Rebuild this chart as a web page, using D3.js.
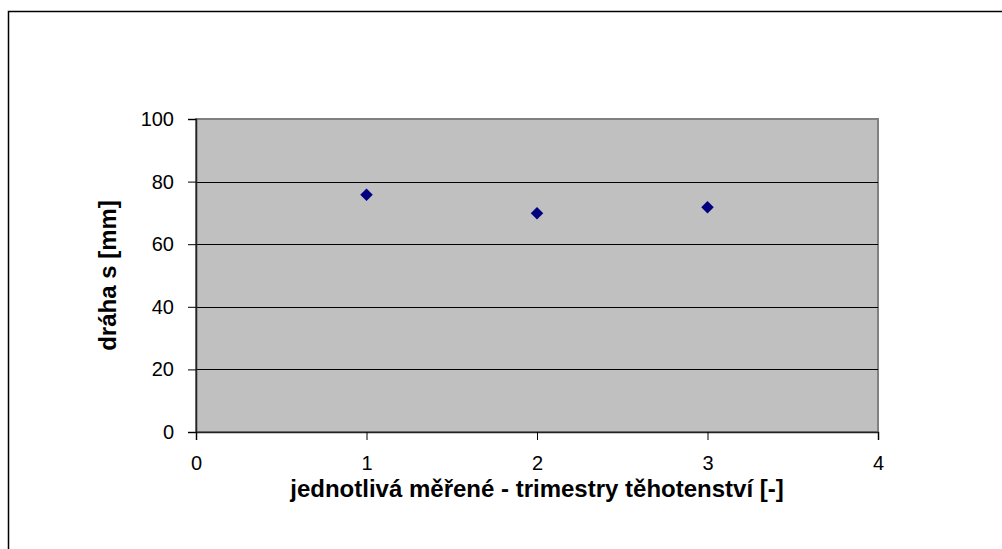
<!DOCTYPE html>
<html>
<head>
<meta charset="utf-8">
<script src="https://cdn.jsdelivr.net/npm/d3@7"></script>
<style>
  body { margin: 0; background: #fff; }
  text { font-family: "Liberation Sans", Arial, sans-serif; }
</style>
</head>
<body>
<div id="chart"></div>
<script>
let w = 1002;
let h = 549;

// data
let trimestry = [1, 2, 3];
let draha = [75.8, 69.9, 71.8];
let xTicks = [0, 1, 2, 3, 4];
let yTicks = [0, 20, 40, 60, 80, 100];

let plot = {left: 196, right: 878, top: 119, bottom: 432};

let svg = d3.select('#chart').
append('svg').
attr('width', w).
attr('height', h);

// outer chart frame
svg.append('rect').
attr('x', 8.5).
attr('y', 11.5).
attr('width', w + 10).
attr('height', h + 10).
attr('fill', 'none').
attr('stroke', '#000').
attr('stroke-width', 1.5);

let x = d3.scaleLinear().domain([0, 4]).range([plot.left, plot.right]);
let y = d3.scaleLinear().domain([0, 100]).range([plot.bottom, plot.top]);

svg.append('rect').
attr('x', plot.left).
attr('y', plot.top).
attr('width', plot.right - plot.left).
attr('height', plot.bottom - plot.top).
attr('fill', '#c0c0c0').
attr('stroke', '#808080').
attr('stroke-width', 2);

// horizontal gridlines
svg.selectAll('line.grid').
data(yTicks.filter(d => d > 0 && d < 100)).
join('line').
attr('class', 'grid').
attr('x1', plot.left).
attr('x2', plot.right).
attr('y1', d => Math.round(y(d)) + 0.5).
attr('y2', d => Math.round(y(d)) + 0.5).
attr('stroke', '#000').
attr('stroke-width', 1);

let yAxis = svg.append('g').
attr('transform', 'translate(' + plot.left + ',0)').
call(d3.axisLeft(y).tickValues(yTicks).tickSize(8).tickPadding(14).tickFormat(d3.format('d')));

let xAxis = svg.append('g').
attr('transform', 'translate(0,' + plot.bottom + ')').
call(d3.axisBottom(x).tickValues(xTicks).tickSize(8).tickPadding(16).tickFormat(d3.format('d')));

[yAxis, xAxis].forEach(a => {
  a.attr('font-size', 20).attr('font-family', '"Liberation Sans", Arial, sans-serif');
  a.select('.domain').attr('stroke', '#222').attr('stroke-width', 1.5);
  a.selectAll('.tick line').attr('stroke', '#000');
  a.selectAll('.tick text').attr('fill', '#000');
});

// markers
svg.selectAll('path.pt').
data(trimestry).
join('path').
attr('class', 'pt').
attr('d', d3.symbol().type(d3.symbolDiamond2).size(100)).
attr('transform', (d, i) => 'translate(' + x(d) + ',' + y(draha[i]) + ')').
attr('fill', '#000080');

svg.append('text').
attr('x', (plot.left + plot.right) / 2).
attr('y', 497).
attr('text-anchor', 'middle').
style('font-size', '24px').
style('font-weight', 'bold').
text('jednotlivá měřené - trimestry těhotenství [-]');

svg.append('text').
attr('transform', 'translate(116,' + (plot.top + plot.bottom) / 2 + ') rotate(-90)').
attr('text-anchor', 'middle').
style('font-size', '24px').
style('font-weight', 'bold').
text('dráha s [mm]');
</script>
</body>
</html>
